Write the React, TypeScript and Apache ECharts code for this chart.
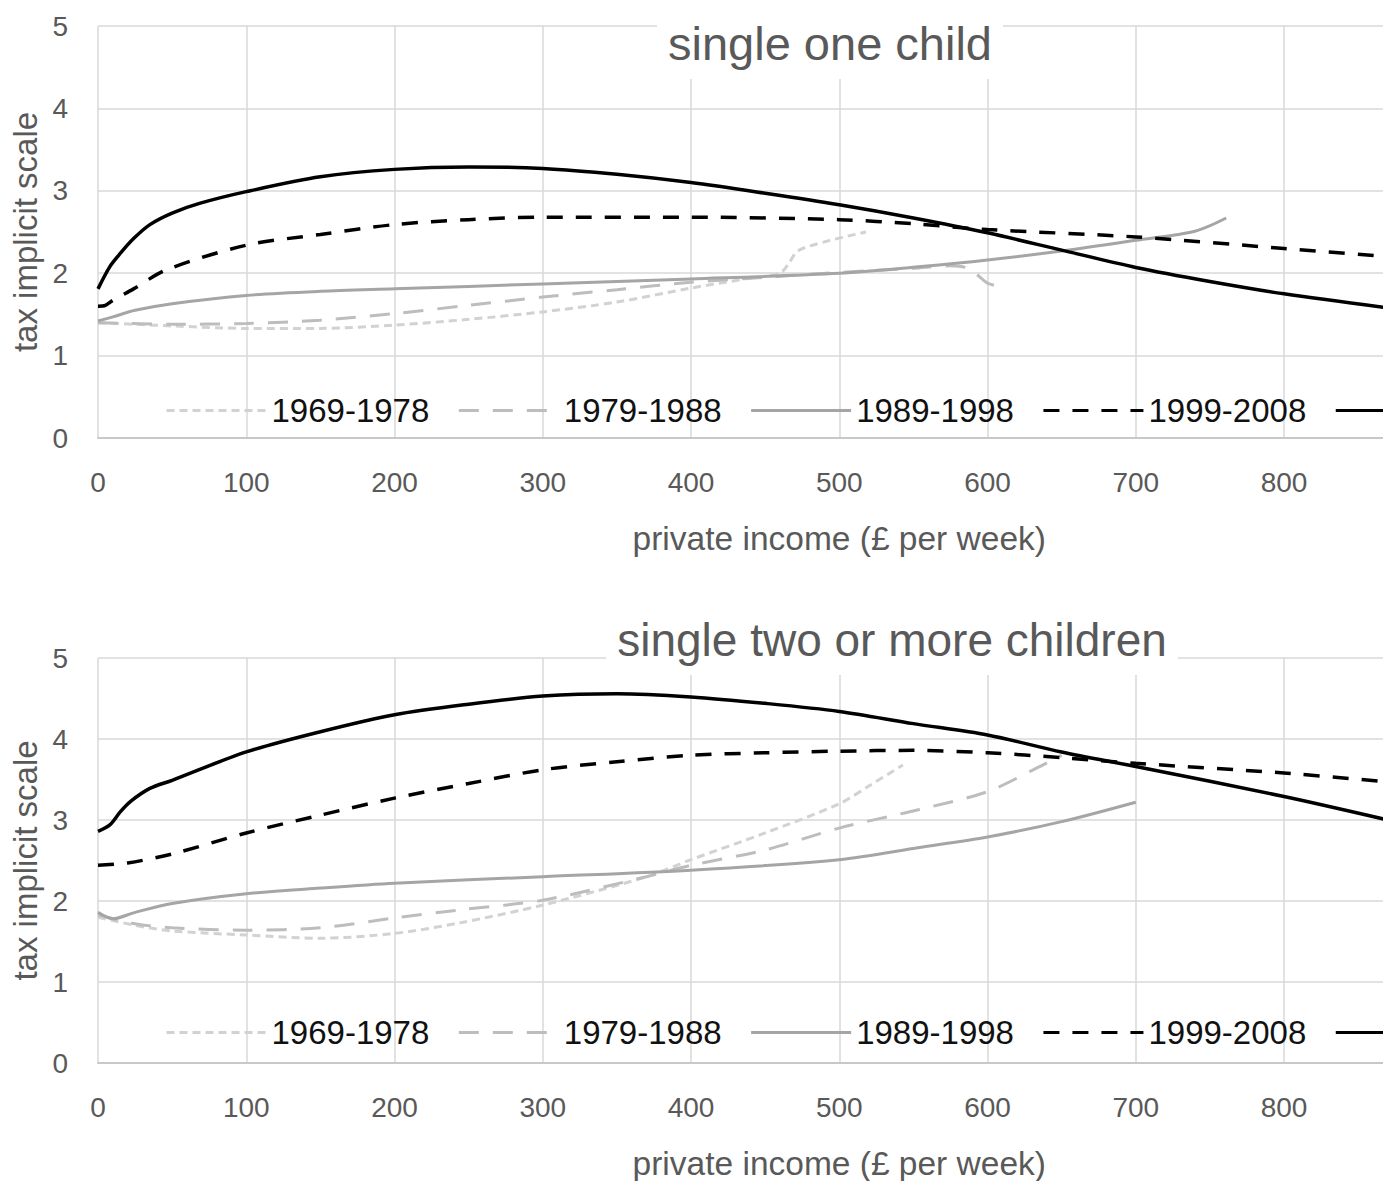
import React, { useEffect, useRef } from "react";
import * as echarts from "echarts";

const SERIES_NAMES = ["1969-1978", "1979-1988", "1989-1998", "1999-2008", "2009-2018"];
const CHART_TITLES = ["single one child", "single two or more children"];
const X_AXIS_TITLE = "private income (£ per week)";
const Y_AXIS_TITLE = "tax implicit scale";
const X_MIN = 0;
const X_MAX = 1000;
const X_STEP = 100;
const X_LAST_LABEL = 800;
const Y_MIN = 0;
const Y_MAX = 5;
const Y_STEP = 1;

// single, one child: [private income, tax implicit scale]
const oneChild1969 = [[0, 1.4], [25, 1.38], [50, 1.36], [100, 1.33], [150, 1.33], [200, 1.37], [250, 1.44], [300, 1.53], [350, 1.65], [400, 1.82], [440, 1.94], [460, 2.0], [466, 2.12], [472, 2.27], [490, 2.38], [518, 2.5]];
const oneChild1979 = [[0, 1.4], [50, 1.38], [100, 1.39], [150, 1.43], [200, 1.51], [250, 1.61], [300, 1.71], [350, 1.8], [400, 1.89], [450, 1.95], [500, 2.01], [550, 2.06], [575, 2.09], [585, 2.07], [593, 1.98], [600, 1.88], [612, 1.82]];
const oneChild1989 = [[0, 1.42], [10, 1.47], [25, 1.55], [50, 1.63], [100, 1.73], [150, 1.78], [200, 1.81], [300, 1.87], [400, 1.93], [500, 2.0], [555, 2.08], [600, 2.16], [650, 2.27], [700, 2.4], [740, 2.51], [761, 2.67]];
const oneChild1999 = [[0, 1.6], [5, 1.61], [10, 1.67], [24, 1.81], [46, 2.04], [100, 2.34], [150, 2.47], [200, 2.59], [250, 2.65], [300, 2.68], [400, 2.68], [500, 2.65], [550, 2.6], [600, 2.53], [700, 2.44], [800, 2.3], [870, 2.2]];
const oneChild2009 = [[0, 1.81], [8, 2.08], [15, 2.24], [24, 2.42], [35, 2.59], [50, 2.73], [69, 2.85], [100, 2.99], [150, 3.17], [200, 3.26], [250, 3.29], [300, 3.27], [350, 3.2], [400, 3.1], [450, 2.97], [500, 2.83], [550, 2.67], [600, 2.49], [650, 2.28], [700, 2.07], [750, 1.9], [800, 1.75], [870, 1.58]];

// single, two or more children
const twoChild1969 = [[0, 1.8], [25, 1.7], [50, 1.63], [100, 1.58], [150, 1.54], [200, 1.6], [244, 1.73], [300, 1.95], [370, 2.3], [400, 2.51], [450, 2.84], [500, 3.2], [520, 3.42], [543, 3.68]];
const twoChild1979 = [[0, 1.83], [25, 1.72], [50, 1.67], [100, 1.64], [150, 1.67], [200, 1.79], [244, 1.89], [300, 2.01], [370, 2.3], [400, 2.44], [450, 2.63], [500, 2.9], [554, 3.13], [600, 3.35], [633, 3.64], [650, 3.8]];
const twoChild1989 = [[0, 1.86], [10, 1.78], [25, 1.86], [50, 1.97], [100, 2.09], [150, 2.16], [200, 2.22], [300, 2.3], [400, 2.38], [500, 2.51], [554, 2.66], [600, 2.79], [650, 2.98], [700, 3.22]];
const twoChild1999 = [[0, 2.44], [20, 2.47], [50, 2.58], [100, 2.84], [150, 3.06], [200, 3.27], [250, 3.45], [300, 3.62], [350, 3.72], [400, 3.8], [450, 3.83], [500, 3.85], [550, 3.86], [600, 3.83], [650, 3.77], [700, 3.7], [800, 3.58], [870, 3.47]];
const twoChild2009 = [[0, 2.86], [8, 2.94], [15, 3.1], [22, 3.23], [35, 3.39], [50, 3.49], [100, 3.84], [150, 4.09], [200, 4.3], [250, 4.43], [300, 4.53], [350, 4.56], [400, 4.52], [450, 4.44], [500, 4.34], [550, 4.19], [600, 4.05], [650, 3.84], [700, 3.66], [800, 3.29], [870, 3.0]];

const PANELS = [
  [oneChild1969, oneChild1979, oneChild1989, oneChild1999, oneChild2009],
  [twoChild1969, twoChild1979, twoChild1989, twoChild1999, twoChild2009],
];

const LINE_STYLES = [
  { color: "#d2d2d2", width: 3, type: [8, 5] },
  { color: "#bdbdbd", width: 3, type: [20, 14] },
  { color: "#a5a5a5", width: 3, type: "solid" },
  { color: "#000000", width: 3.5, type: [16, 13] },
  { color: "#000000", width: 3.5, type: "solid" },
];

const FONT = "'Liberation Sans', Arial, sans-serif";
const GREY_TEXT = "#595959";

const GRIDS = [
  { left: 98, top: 26, height: 412 },
  { left: 98, top: 658, height: 405 },
];
const TITLE_POS = [
  { left: 819, top: 8, size: 47 },
  { left: 881, top: 605, size: 46 },
];
const LEGEND_TOP = [394, 1016];

export default function App() {
  const ref = useRef<HTMLDivElement>(null);

  useEffect(() => {
    if (!ref.current) return;
    const chart = echarts.init(ref.current, undefined, { renderer: "svg" });
    const gridWidth = 1482.5;

    const option: any = {
      animation: false,
      backgroundColor: "#ffffff",
      textStyle: { fontFamily: FONT },
      title: CHART_TITLES.map((t, i) => ({
        text: t,
        left: TITLE_POS[i].left,
        top: TITLE_POS[i].top,
        textAlign: "center",
        backgroundColor: "#ffffff",
        padding: [12, 11, 12, 11],
        z: 10,
        textStyle: { fontSize: TITLE_POS[i].size, fontWeight: "normal", color: GREY_TEXT, fontFamily: FONT },
      })),
      legend: LEGEND_TOP.map((top) => ({
        left: 165,
        top,
        padding: 0,
        itemWidth: 100,
        itemHeight: 20,
        itemGap: 28,
        data: SERIES_NAMES,
        formatter: (n: string) => (n === SERIES_NAMES[4] ? "" : n),
        lineStyle: { width: 3 },
        itemStyle: { opacity: 0 },
        textStyle: { fontSize: 33, color: "#111111", fontFamily: FONT },
        selectedMode: false,
      })),
      grid: GRIDS.map((g) => ({ left: g.left, top: g.top, width: gridWidth, height: g.height, containLabel: false })),
      xAxis: GRIDS.map((_, i) => ({
        type: "value",
        gridIndex: i,
        min: X_MIN,
        max: X_MAX,
        interval: X_STEP,
        name: X_AXIS_TITLE,
        nameLocation: "middle",
        nameGap: 83,
        nameTextStyle: { fontSize: 33.5, color: GREY_TEXT, fontFamily: FONT },
        axisLine: { show: true, lineStyle: { color: "#c8c8c8", width: 2 } },
        axisTick: { show: false },
        axisLabel: {
          margin: 30,
          fontSize: 28,
          color: GREY_TEXT,
          fontFamily: FONT,
          formatter: (v: number) => (v <= X_LAST_LABEL ? String(v) : ""),
        },
        splitLine: { show: true, lineStyle: { color: "#d9d9d9", width: 1.5 } },
      })),
      yAxis: GRIDS.map((_, i) => ({
        type: "value",
        gridIndex: i,
        min: Y_MIN,
        max: Y_MAX,
        interval: Y_STEP,
        name: Y_AXIS_TITLE,
        nameLocation: "middle",
        nameGap: 54,
        nameTextStyle: { fontSize: 33, color: GREY_TEXT, fontFamily: FONT },
        axisLine: { show: false },
        axisTick: { show: false },
        axisLabel: { margin: 30, fontSize: 28, color: GREY_TEXT, fontFamily: FONT },
        splitLine: { show: true, lineStyle: { color: "#d9d9d9", width: 1.5 } },
      })),
      series: PANELS.flatMap((panel, p) =>
        panel.map((data, s) => ({
          type: "line",
          name: SERIES_NAMES[s],
          xAxisIndex: p,
          yAxisIndex: p,
          data,
          smooth: 0.3,
          symbol: "none",
          lineStyle: { ...LINE_STYLES[s] },
          itemStyle: { color: LINE_STYLES[s].color },
          z: 2 + s,
        }))
      ),
    };

    chart.setOption(option);
    return () => chart.dispose();
  }, []);

  return (
    <div style={{ position: "absolute", left: 0, top: 0, width: 1383, height: 1181, overflow: "hidden", background: "#fff" }}>
      <div ref={ref} style={{ width: 1700, height: 1181 }} />
    </div>
  );
}
